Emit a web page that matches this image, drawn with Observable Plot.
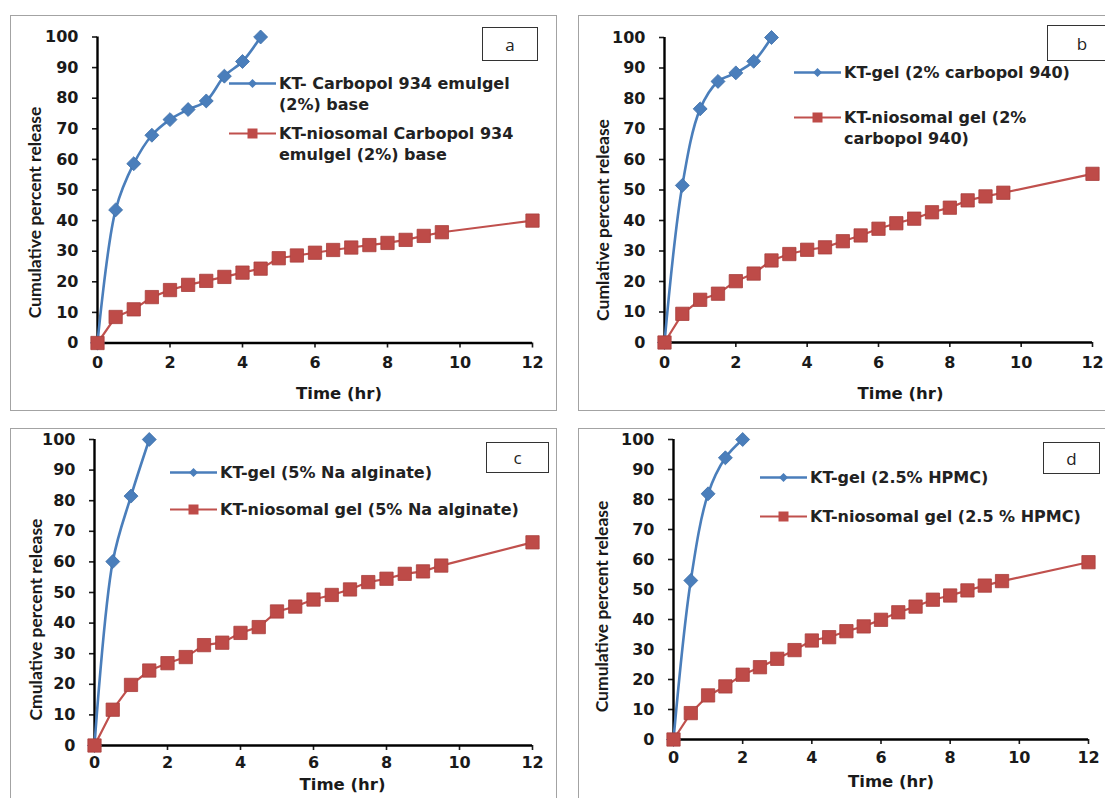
<!DOCTYPE html>
<html><head><meta charset="utf-8">
<script src="https://cdn.jsdelivr.net/npm/d3@7"></script>
<script src="https://cdn.jsdelivr.net/npm/@observablehq/plot@0.6"></script>
<style>
body{margin:0;background:#fff;}
#root{position:relative;width:1105px;height:798px;overflow:hidden;background:#fff;}
.panel{position:absolute;border:1px solid #a3a3a3;box-sizing:border-box;}
.plot{position:absolute;}
.tag{position:absolute;border:1.5px solid #333;box-sizing:border-box;display:flex;align-items:center;justify-content:center;font:17px 'Open Sans',sans-serif;color:#222;background:#fff;}
.leg{position:absolute;display:flex;align-items:flex-start;font:bold 16px 'DejaVu Sans',sans-serif;color:#222;line-height:21px;white-space:pre;}
.leg svg{flex:none;margin-right:3px;}
</style></head><body><div id="root"></div><script>
// ---- data ----
const timeNio = [0,0.5,1,1.5,2,2.5,3,3.5,4,4.5,5,5.5,6,6.5,7,7.5,8,8.5,9,9.5,12];

const timeGel_a = [0,0.5,1,1.5,2,2.5,3,3.5,4,4.5];
const releaseGel_a = [0,43.5,58.6,67.9,73,76.3,79.1,87.2,92,100];
const releaseNio_a = [0,8.5,11,15,17.3,19,20.3,21.6,23,24.3,27.7,28.6,29.5,30.4,31.2,32,32.7,33.7,35,36.2,40];

const timeGel_b = [0,0.5,1,1.5,2,2.5,3];
const releaseGel_b = [0,51.5,76.6,85.6,88.4,92.2,100];
const releaseNio_b = [0,9.4,14,16,20.1,22.6,26.9,29,30.4,31.2,33.2,35.1,37.3,39.1,40.6,42.7,44.2,46.6,47.9,49.1,55.3];

const timeGel_c = [0,0.5,1,1.5];
const releaseGel_c = [0,60.1,81.5,100];
const releaseNio_c = [0,11.7,19.8,24.5,26.9,28.9,32.8,33.6,36.8,38.7,43.8,45.4,47.7,49.2,51,53.4,54.5,56.1,56.9,58.8,66.4];

const timeGel_d = [0,0.5,1,1.5,2];
const releaseGel_d = [0,53,81.9,93.9,100];
const releaseNio_d = [0,8.8,14.7,17.7,21.6,24.1,26.9,29.8,33,34.1,36.1,37.7,39.9,42.4,44.3,46.6,48,49.7,51.3,52.8,59.1];

const gelNames = ["KT- Carbopol 934 emulgel\n(2%) base", "KT-gel (2% carbopol 940)", "KT-gel (5% Na alginate)", "KT-gel (2.5% HPMC)"];
const nioNames = ["KT-niosomal Carbopol 934\nemulgel (2%) base", "KT-niosomal gel (2%\ncarbopol 940)", "KT-niosomal gel (5% Na alginate)", "KT-niosomal gel (2.5 % HPMC)"];
const panelTags = ["a","b","c","d"];
const yLabels = ["Cumulative percent release","Cumlative percent release","Cmulative percent release","Cumulative percent release"];
const xLabel = "Time (hr)";
const xTicks = [0,2,4,6,8,10,12];
const yTicks = [0,10,20,30,40,50,60,70,80,90,100];

const gelTimes = [timeGel_a,timeGel_b,timeGel_c,timeGel_d];
const gelValues = [releaseGel_a,releaseGel_b,releaseGel_c,releaseGel_d];
const nioValues = [releaseNio_a,releaseNio_b,releaseNio_c,releaseNio_d];

// ---- layout (styling only) ----
const layout = [
  {box:[10,15,547,396], svg:[547,396], x0:97, x12:532, y100:36.5, y0:342.5, tp:9, tag:[482,27,56,34], leg:{sx:229,y:[83,133]}, ylab:[-62.5,22.5], xlab:[24,50.5]},
  {box:[578,15,560,396], svg:[527,396], x0:664, x12:1092, y100:37, y0:342, tp:9, tag:[1047,25,70,36], leg:{sx:794,y:[72,117]}, ylab:[-61,30], xlab:[22,51]},
  {box:[10,428,547,400], svg:[547,370], x0:94, x12:532, y100:439, y0:745, tp:6, tag:[486,442,63,31], leg:{sx:170,y:[472,509]}, ylab:[-58,27], xlab:[29,39]},
  {box:[578,428,560,400], svg:[527,370], x0:673, x12:1088, y100:439, y0:739, tp:7, tag:[1043,442,57,32], leg:{sx:760,y:[477,516]}, ylab:[-71,17], xlab:[10,42]}
];
const BLUE = "#4a7ebb", RED = "#be4b48";

const root = document.getElementById("root");

function swatch(kind){
  const ns="http://www.w3.org/2000/svg";
  const s=document.createElementNS(ns,"svg");
  s.setAttribute("width","47");s.setAttribute("height","21");
  const l=document.createElementNS(ns,"line");
  l.setAttribute("x1","0");l.setAttribute("x2","47");l.setAttribute("y1","10.5");l.setAttribute("y2","10.5");
  l.setAttribute("stroke",kind==="gel"?BLUE:"#c0504d");l.setAttribute("stroke-width",kind==="gel"?"2.5":"2.2");
  s.appendChild(l);
  const m=document.createElementNS(ns,"path");
  if(kind==="gel") m.setAttribute("d","M23.5,6L28,10.5L23.5,15L19,10.5Z");
  else m.setAttribute("d","M18.5,5.5H28.5V15.5H18.5Z");
  m.setAttribute("fill",kind==="gel"?BLUE:RED);
  s.appendChild(m);
  return s;
}

layout.forEach((L,i)=>{
  const [bx,by,bw,bh]=L.box;
  const p=document.createElement("div");p.className="panel";
  Object.assign(p.style,{left:bx+"px",top:by+"px",width:bw+"px",height:bh+"px"});
  root.appendChild(p);

  const [W,H]=L.svg;
  const gel = gelTimes[i].map((t,k)=>({t, v:gelValues[i][k]}));
  const nio = timeNio.map((t,k)=>({t, v:nioValues[i][k]}));

  const chart = Plot.plot({
    width:W, height:H,
    marginLeft:L.x0-bx, marginRight:W-(L.x12-bx),
    marginTop:L.y100-by, marginBottom:H-(L.y0-by),
    x:{domain:[0,12]}, y:{domain:[0,100]},
    style:{fontFamily:"'DejaVu Sans',sans-serif", fontWeight:"bold", fontSize:"16px", color:"#1a1a1a", background:"transparent", overflow:"visible"},
    marks:[
      Plot.axisX({ticks:xTicks, tickSize:5, tickPadding:L.tp, label:null, strokeWidth:1.6, tickFormat:d=>String(d)}),
      Plot.axisY({ticks:yTicks, tickSize:5, tickPadding:14, label:null, strokeWidth:1.6, tickFormat:d=>String(d)}),
      Plot.ruleY([0],{stroke:"#000",strokeWidth:2.4}),
      Plot.ruleX([0],{stroke:"#000",strokeWidth:2.4}),
      Plot.line(gel,{x:"t",y:"v",stroke:BLUE,strokeWidth:2.6,curve:"catmull-rom"}),
      Plot.dot(gel,{x:"t",y:"v",symbol:"diamond2",r:6.3,fill:BLUE,stroke:"#3e6ea8",strokeWidth:0.8}),
      Plot.line(nio,{x:"t",y:"v",stroke:"#c0504d",strokeWidth:2.2}),
      Plot.dot(nio,{x:"t",y:"v",symbol:"square",r:7.5,fill:RED,stroke:"#a83f3c",strokeWidth:0.8}),
      Plot.text([yLabels[i]],{text:d=>d,frameAnchor:"left",textAnchor:"middle",lineAnchor:"middle",rotate:-90,dx:L.ylab[0],dy:L.ylab[1],fontFamily:"Lato",fontSize:17.5,fontWeight:"bold",fill:"#1a1a1a"}),
      Plot.text([xLabel],{text:d=>d,frameAnchor:"bottom",textAnchor:"middle",lineAnchor:"middle",dx:L.xlab[0],dy:L.xlab[1],fontSize:16.5,fontWeight:"bold",fill:"#1a1a1a"})
    ]
  });
  chart.classList.add("plot");
  Object.assign(chart.style,{left:bx+"px",top:by+"px"});
  root.appendChild(chart);

  const [tx,ty,tw,th]=L.tag;
  const tg=document.createElement("div");tg.className="tag";tg.textContent=panelTags[i];
  Object.assign(tg.style,{left:tx+"px",top:ty+"px",width:tw+"px",height:th+"px"});
  root.appendChild(tg);

  [["gel",gelNames[i]],["nio",nioNames[i]]].forEach(([kind,name],k)=>{
    const lg=document.createElement("div");lg.className="leg";
    lg.style.left=L.leg.sx+"px";lg.style.top=(L.leg.y[k]-10.5)+"px";
    lg.appendChild(swatch(kind));
    const sp=document.createElement("span");sp.textContent=name;
    lg.appendChild(sp);
    root.appendChild(lg);
  });
});
</script></body></html>
